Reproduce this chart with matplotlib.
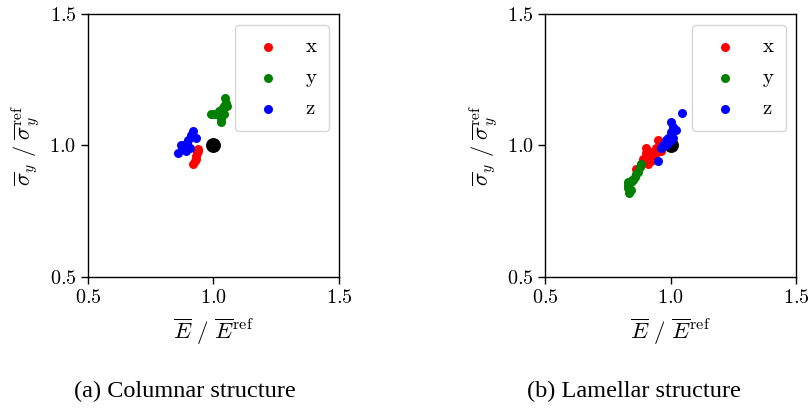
import matplotlib
matplotlib.use("Agg")
import matplotlib.pyplot as plt

plt.rcParams['mathtext.fontset'] = 'cm'
plt.rcParams['font.family'] = ['cmr10', 'DejaVu Serif']
plt.rcParams['axes.formatter.use_mathtext'] = True

# Panel (a): Columnar structure
col_x_E = [0.92, 0.925, 0.93, 0.93, 0.935, 0.94, 0.94, 0.935]
col_x_S = [0.93, 0.94, 0.95, 0.96, 0.97, 0.98, 0.985, 0.975]
col_y_E = [0.99, 1.00, 1.01, 1.02, 1.03, 1.035, 1.04, 1.05, 1.045, 1.055, 1.04, 1.03]
col_y_S = [1.12, 1.12, 1.12, 1.13, 1.10, 1.14, 1.15, 1.16, 1.18, 1.15, 1.12, 1.09]
col_z_E = [0.86, 0.87, 0.88, 0.89, 0.895, 0.90, 0.91, 0.92, 0.93, 0.905, 0.89, 0.875]
col_z_S = [0.97, 1.00, 1.00, 0.98, 1.01, 1.02, 1.04, 1.055, 1.03, 0.99, 1.00, 0.99]

# Panel (b): Lamellar structure
lam_x_E = [0.86, 0.88, 0.89, 0.90, 0.90, 0.91, 0.92, 0.92, 0.93, 0.94, 0.95, 0.96, 0.96, 0.91, 0.97, 0.94]
lam_x_S = [0.91, 0.93, 0.95, 0.97, 0.99, 0.98, 0.96, 0.94, 0.95, 0.97, 1.02, 1.00, 0.98, 0.93, 1.00, 0.99]
lam_y_E = [0.83, 0.83, 0.835, 0.84, 0.845, 0.85, 0.855, 0.86, 0.87, 0.875, 0.88, 0.84, 0.83]
lam_y_S = [0.85, 0.84, 0.82, 0.86, 0.87, 0.87, 0.88, 0.89, 0.90, 0.92, 0.93, 0.83, 0.86]
lam_z_E = [0.95, 0.96, 0.97, 0.98, 0.99, 1.00, 1.01, 1.00, 1.02, 1.045, 0.99, 1.01, 0.98, 1.00]
lam_z_S = [0.94, 0.99, 1.00, 1.02, 1.03, 1.05, 1.07, 1.09, 1.06, 1.125, 1.01, 1.03, 1.00, 1.02]

ref_E = [1.0]
ref_S = [1.0]

labels = ['x', 'y', 'z']
colors = ['red', 'green', 'blue']
ticks = [0.5, 1.0, 1.5]
captions = ['(a) Columnar structure', '(b) Lamellar structure']

fig = plt.figure(figsize=(8.11, 4.08), dpi=100)
ax1 = fig.add_axes([0.1085, 0.321, 0.3095, 0.645])
ax2 = fig.add_axes([0.6725, 0.321, 0.3095, 0.645])

panels = [
    (ax1, [(col_x_E, col_x_S), (col_y_E, col_y_S), (col_z_E, col_z_S)]),
    (ax2, [(lam_x_E, lam_x_S), (lam_y_E, lam_y_S), (lam_z_E, lam_z_S)]),
]

for ax, series in panels:
    ax.scatter(ref_E, ref_S, s=115, color='black', zorder=2, linewidths=0)
    for (E, S), lab, c in zip(series, labels, colors):
        ax.scatter(E, S, s=42, color=c, label=lab, zorder=3, linewidths=0)
    ax.set_xlim(0.5, 1.5)
    ax.set_ylim(0.5, 1.5)
    ax.set_xticks(ticks)
    ax.set_yticks(ticks)
    ax.tick_params(labelsize=14.5, direction='out', length=5, width=1)
    for sp in ax.spines.values():
        sp.set_linewidth(1.0)
    ax.set_xlabel(r'$\overline{E}\ /\ \overline{E}^{\mathrm{ref}}$', fontsize=16.5, labelpad=7)
    ax.set_ylabel(r'$\overline{\sigma}_y\ /\ \overline{\sigma}_y^{\mathrm{ref}}$', fontsize=16, labelpad=5)
    ax.legend(loc='upper right', fontsize=15, labelspacing=0.6, handletextpad=0.8,
              borderpad=0.6, markerscale=1.0, fancybox=True, framealpha=0.8,
              bbox_to_anchor=(0.96, 0.958), borderaxespad=0.0)

fig.text(0.228, 0.04, captions[0], ha='center', va='center', fontsize=17.5,
         family=['Liberation Serif'])
fig.text(0.782, 0.04, captions[1], ha='center', va='center', fontsize=17.5,
         family=['Liberation Serif'])

fig.savefig('out.png', dpi=100)
